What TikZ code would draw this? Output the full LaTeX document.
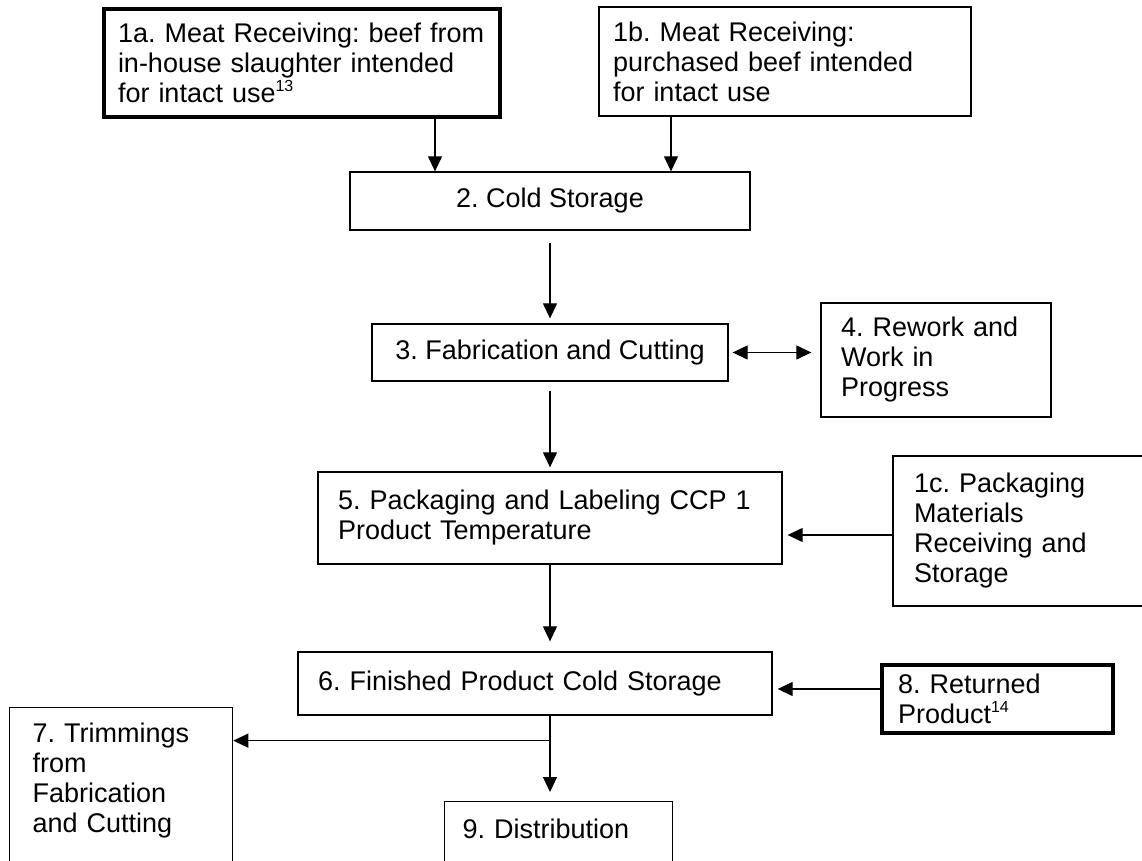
\documentclass[tikz,border=0pt]{standalone}
\usepackage{fontspec}
\setmainfont{Liberation Sans}
\usetikzlibrary{arrows.meta,calc}
\frenchspacing
\newcommand{\supnum}[1]{\raisebox{0.42em}{\fontsize{8pt}{8pt}\selectfont #1}}

\begin{document}
\begin{tikzpicture}[
    x=0.5pt, y=-0.5pt,
    % Box styles
    stepbox/.style={
        rectangle,
        draw,
        line width=0.65pt,
        font=\fontsize{13.5pt}{15pt}\selectfont,
        inner xsep=0pt,
        inner ysep=0pt
    },
    heavy/.style={line width=1.6pt},
    leftbox/.style={stepbox, align=left},
    midbox/.style={stepbox, align=center},
    flow/.style={-{Triangle[length=7.5pt,width=7pt]}, line width=0.6pt},
    twoway/.style={{Triangle[length=7.5pt,width=7pt]}-{Triangle[length=7.5pt,width=7pt]}, line width=0.6pt}
]

% Page frame
\useasboundingbox (0,0) rectangle (1142,861);
\clip (0,0) rectangle (1142,861);

% Receiving
\node[leftbox, heavy, inner xsep=7pt, text width=184pt, minimum height=54pt] (rcv_slaughter) at (302,63)
    {1a. Meat Receiving: beef from\\in-house slaughter intended\\for intact use\supnum{13}};
\node[leftbox, inner xsep=7pt, text width=172pt, minimum height=54.5pt] (rcv_purchased) at (785,61.5)
    {1b. Meat Receiving:\\purchased beef intended\\for intact use};

% Main line
\node[midbox, minimum width=200pt, minimum height=29pt] (cold_storage) at (550,201) {2. Cold Storage};
\node[midbox, minimum width=178pt, minimum height=28.5pt] (fabrication) at (550,352.5) {3. Fabrication and Cutting};
\node[leftbox, inner xsep=10pt, text width=95pt, minimum height=57pt] (rework) at (936,360)
    {4. Rework and\\Work in\\Progress};
\node[leftbox, inner xsep=10pt, text width=212pt, minimum height=46pt] (packaging) at (550,518)
    {5. Packaging and Labeling CCP 1\\Product Temperature};
\node[leftbox, inner xsep=10.5pt, text width=107.5pt, minimum height=75pt] (pack_materials) at (1021.5,531)
    {1c. Packaging\\Materials\\Receiving and\\Storage};
\node[leftbox, inner xsep=10pt, text width=217pt, minimum height=31.5pt] (finished_storage) at (535,683.5)
    {6. Finished Product Cold Storage};
\node[leftbox, heavy, inner xsep=8pt, text width=99.5pt, minimum height=34pt] (returned) at (997.5,699)
    {8. Returned\\Product\supnum{14}};

% Outputs (cut off by the page edge)
\node[leftbox, anchor=north west, inner xsep=11.5pt, inner ysep=7.5pt, text width=88.5pt, text depth=80pt] (trimmings) at (9,707)
    {7. Trimmings\\from\\Fabrication\\and Cutting};
\node[leftbox, anchor=north west, inner xsep=9pt, inner ysep=8.7pt, text width=96pt, text depth=40pt] (distribution) at (444,801)
    {9. Distribution};

% Connections
\draw[flow] ([xshift=66.5pt]rcv_slaughter.south) -- ([xshift=66.5pt]rcv_slaughter.south |- cold_storage.north);
\draw[flow] ([xshift=-57pt]rcv_purchased.south) -- ([xshift=-57pt]rcv_purchased.south |- cold_storage.north);
\draw[flow, shorten <=6pt, shorten >=2.5pt] (cold_storage) -- (fabrication);
\draw[twoway, shorten <=2pt, shorten >=4.5pt] (fabrication.east) -- (fabrication.east -| rework.west);
\draw[flow, shorten <=4.5pt, shorten >=2pt] (fabrication) -- (packaging);
\draw[flow, shorten >=2.5pt] ([yshift=-2pt]pack_materials.west) -- ([yshift=-2pt]pack_materials.west -| packaging.east);
\draw[flow, shorten >=5pt] (packaging.south) -- (packaging.south |- finished_storage.north);
\draw[flow, shorten >=2.5pt] ([yshift=5pt]returned.west) -- ([yshift=5pt]returned.west -| finished_storage.east);

% Split below finished storage
\coordinate (split) at ($(finished_storage.south -| packaging.south)+(0,-12.5pt)$);
\draw[flow, shorten >=4.5pt] (finished_storage.south -| split) -- (distribution.north -| split);
\draw[flow] (split) -- (split -| trimmings.east);

\end{tikzpicture}
\end{document}
